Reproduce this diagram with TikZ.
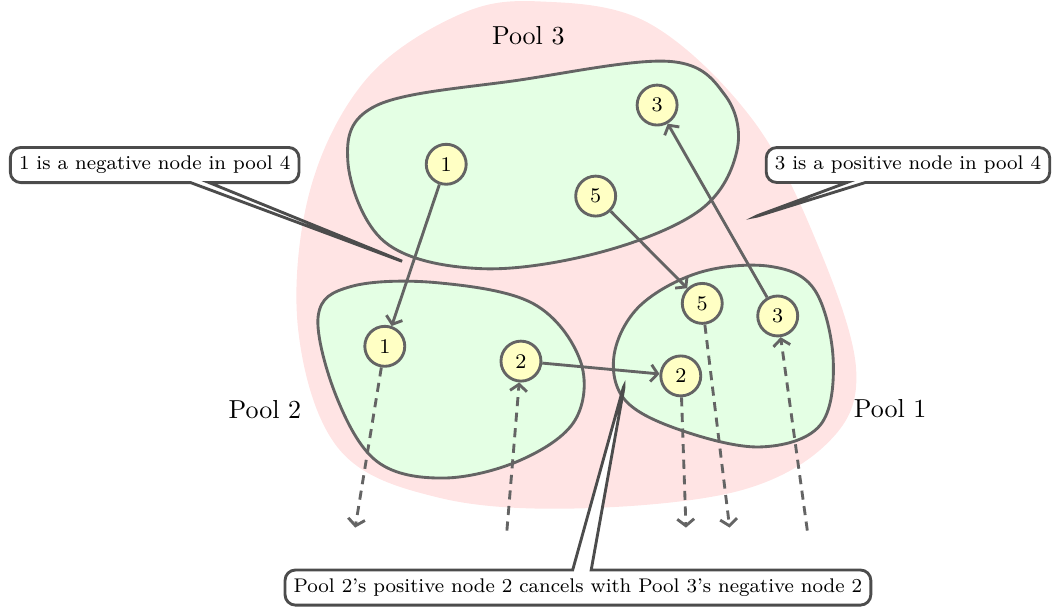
\documentclass[tikz,border=0pt]{standalone}
\usetikzlibrary{shapes.callouts, arrows.meta}

\definecolor{poolred}{HTML}{FFE4E4}
\definecolor{poolgreen}{HTML}{E4FFE4}
\definecolor{vtxyellow}{HTML}{FFFFC4}
\definecolor{linegray}{HTML}{646464}

\begin{document}
\begin{tikzpicture}[
    >={Straight Barb[length=2.6pt, width=6.5pt]},
    vtx/.style={draw=linegray, fill=vtxyellow, circle, line width=1.1pt,
        minimum size=0.54cm, inner sep=0pt, font=\footnotesize},
    pool/.style={draw=linegray, fill=poolgreen, line width=1.1pt},
    move/.style={->, draw=linegray, line width=1.1pt},
    flow/.style={->, draw=linegray, line width=1.1pt, dash pattern=on 3.5pt off 2.5pt},
    note/.style={rectangle callout, draw=black!70, fill=white, rounded corners=4pt,
        line width=1.1pt, font=\fontsize{7.6}{9}\selectfont}
]
    \useasboundingbox (0,0) rectangle (14.23,8.22);

    % pool 4 around everything
    \fill[poolred] plot[smooth cycle, tension=0.6] coordinates {
        (7.30,8.20) (8.78,7.90) (10.18,6.59) (11.08,4.84) (11.57,3.22) (11.22,2.27)
        (10.00,1.59) (7.84,1.35) (5.95,1.49) (4.59,2.14) (4.03,3.76) (4.19,5.65)
        (4.95,7.15) (6.20,8.02)};

    % pools 3, 2, 1
    \draw[pool] plot[smooth cycle, tension=0.6] coordinates {
        (4.70,6.05) (5.10,6.80) (7.03,7.14) (9.05,7.39) (9.80,6.93) (9.96,6.19)
        (9.46,5.38) (8.11,4.81) (6.49,4.59) (5.20,4.95)};
    \draw[pool] plot[smooth cycle, tension=0.6] coordinates {
        (4.30,3.95) (4.75,4.35) (5.90,4.40) (7.20,4.12) (7.84,3.35) (7.77,2.54)
        (7.03,2.00) (6.00,1.76) (5.10,1.98) (4.55,2.85)};
    \draw[pool] plot[smooth cycle, tension=0.6] coordinates {
        (8.65,4.09) (9.46,4.54) (10.41,4.62) (11.01,4.30) (11.26,3.35) (11.08,2.47)
        (10.27,2.18) (9.19,2.41) (8.45,2.81) (8.30,3.43)};

    \node (lab3) at (7.14,7.73) {Pool 3};
    \node (lab2) at (3.58,2.68) {Pool 2};
    \node (lab1) at (12.03,2.70) {Pool 1};

    % nodes
    \node[vtx] (a1) at (6.03,6.00) {1};
    \node[vtx] (a3) at (8.88,6.80) {3};
    \node[vtx] (a5) at (8.05,5.57) {5};
    \node[vtx] (b1) at (5.20,3.54) {1};
    \node[vtx] (b2) at (7.04,3.34) {2};
    \node[vtx] (c5) at (9.49,4.12) {5};
    \node[vtx] (c3) at (10.51,3.95) {3};
    \node[vtx] (c2) at (9.20,3.14) {2};

    \draw[move] (a1) -- (b1);
    \draw[move] (a5) -- (c5);
    \draw[move] (c3) -- (a3);
    \draw[move] (b2) -- (c2);

    % flows leaving / entering
    \coordinate (e1) at (4.80,1.09);
    \coordinate (e2) at (6.85,1.05);
    \coordinate (e3) at (9.27,1.09);
    \coordinate (e4) at (9.86,1.09);
    \coordinate (e5) at (10.91,1.05);
    \draw[flow] (b1) -- (e1);
    \draw[flow] (e2) -- (b2);
    \draw[flow] (c2) -- (e3);
    \draw[flow] (c5) -- (e4);
    \draw[flow] (e5) -- (c3);

    % callouts
    \coordinate (t1) at (5.51,4.66);
    \coordinate (t2) at (10.14,5.27);
    \coordinate (t3) at (8.45,3.08);
    \node[note, callout absolute pointer={(t1)}] (n1) at (2.09,5.99)
        {1 is a negative node in pool 4};
    \node[note, callout absolute pointer={(t2)}] (n2) at (12.27,5.99)
        {3 is a positive node in pool 4};
    \node[note, callout absolute pointer={(t3)}] (n3) at (7.81,0.28)
        {Pool 2's positive node 2 cancels with Pool 3's negative node 2};
\end{tikzpicture}
\end{document}
